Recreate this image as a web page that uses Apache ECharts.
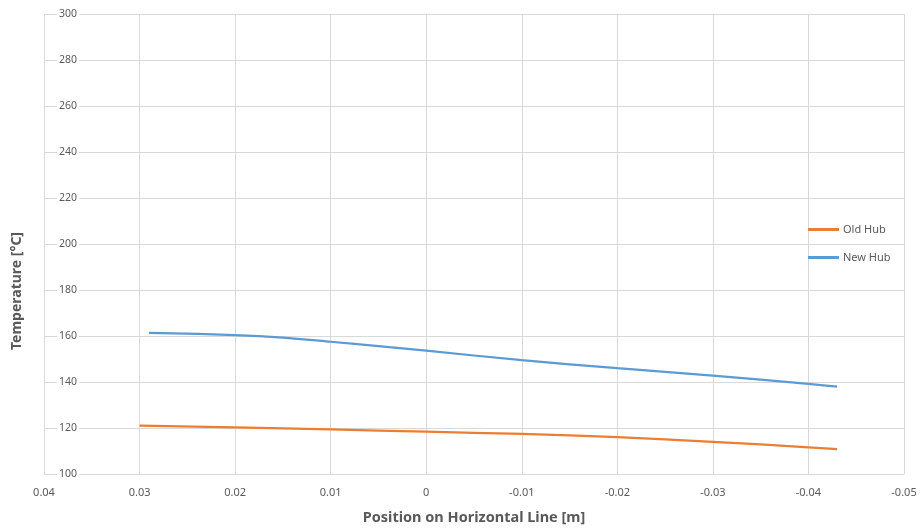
<!DOCTYPE html>
<html>
<head>
<meta charset="utf-8">
<script src="https://cdn.jsdelivr.net/npm/echarts@6/dist/echarts.min.js"></script>
<style>html,body{margin:0;padding:0;background:#fff}#c{width:922px;height:531px}</style>
</head>
<body>
<div id="c"></div>
<script>
// Data
const oldHubX = [0.03, 0.02, 0.01, 0, -0.01, -0.02, -0.03, -0.04, -0.043];
const oldHubY = [121.0, 120.3, 119.4, 118.4, 117.4, 116.0, 114.0, 111.6, 110.8];
const newHubX = [0.029, 0.02, 0.015, 0.01, 0.005, 0, -0.01, -0.02, -0.03, -0.04, -0.043];
const newHubY = [161.4, 160.4, 159.3, 157.5, 155.6, 153.6, 149.5, 146.0, 142.8, 139.2, 138.0];
const seriesNames = ['Old Hub', 'New Hub'];
const xTitle = 'Position on Horizontal Line [m]';
const yTitle = 'Temperature [°C]';

const pair = (xs, ys) => xs.map((x, i) => [x, ys[i]]);
const txt = '#595959';
const gridC = '#d9d9d9';
const font = 'Noto Sans';

const chart = echarts.init(document.getElementById('c'));
chart.setOption({
  animation: false,
  textStyle: { fontFamily: font },
  grid: { left: 44, right: 18, top: 14, bottom: 57 },
  xAxis: {
    type: 'value', inverse: true, min: -0.05, max: 0.04, interval: 0.01,
    name: xTitle, nameLocation: 'middle', nameGap: 36,
    nameTextStyle: { color: txt, fontSize: 14.5, fontWeight: 'bold', fontFamily: font },
    axisLine: { show: true, onZero: false, lineStyle: { color: gridC } },
    axisTick: { show: false },
    axisLabel: { color: txt, fontSize: 11, margin: 13, formatter: v => String(+(+v).toFixed(2)) },
    splitLine: { show: true, lineStyle: { color: gridC, width: 1 } }
  },
  yAxis: {
    type: 'value', min: 100, max: 300, interval: 20,
    axisLine: { show: true, lineStyle: { color: gridC } },
    axisTick: { show: false },
    axisLabel: { inside: true, margin: 13, color: txt, fontSize: 10.5, backgroundColor: '#fff', padding: [0, 2] },
    splitLine: { show: true, lineStyle: { color: gridC, width: 1 } }
  },
  legend: {
    orient: 'vertical', left: 803, top: 219, itemGap: 17,
    icon: 'rect', itemWidth: 31, itemHeight: 3,
    textStyle: { color: txt, fontSize: 11, fontFamily: font, padding: [0, 0, 0, -1] },
    data: seriesNames
  },
  graphic: [{
    type: 'text', left: 10, top: 232,
    rotation: Math.PI / 2,
    style: { text: yTitle, fill: txt, font: 'bold 14px "' + font + '"' }
  }],
  series: [
    { name: seriesNames[0], type: 'line', data: pair(oldHubX, oldHubY), smooth: 0.3,
      symbol: 'none', lineStyle: { color: '#ED7D31', width: 2.25 }, itemStyle: { color: '#ED7D31' } },
    { name: seriesNames[1], type: 'line', data: pair(newHubX, newHubY), smooth: 0.3,
      symbol: 'none', lineStyle: { color: '#5B9BD5', width: 2.25 }, itemStyle: { color: '#5B9BD5' } }
  ]
});
</script>
</body>
</html>
